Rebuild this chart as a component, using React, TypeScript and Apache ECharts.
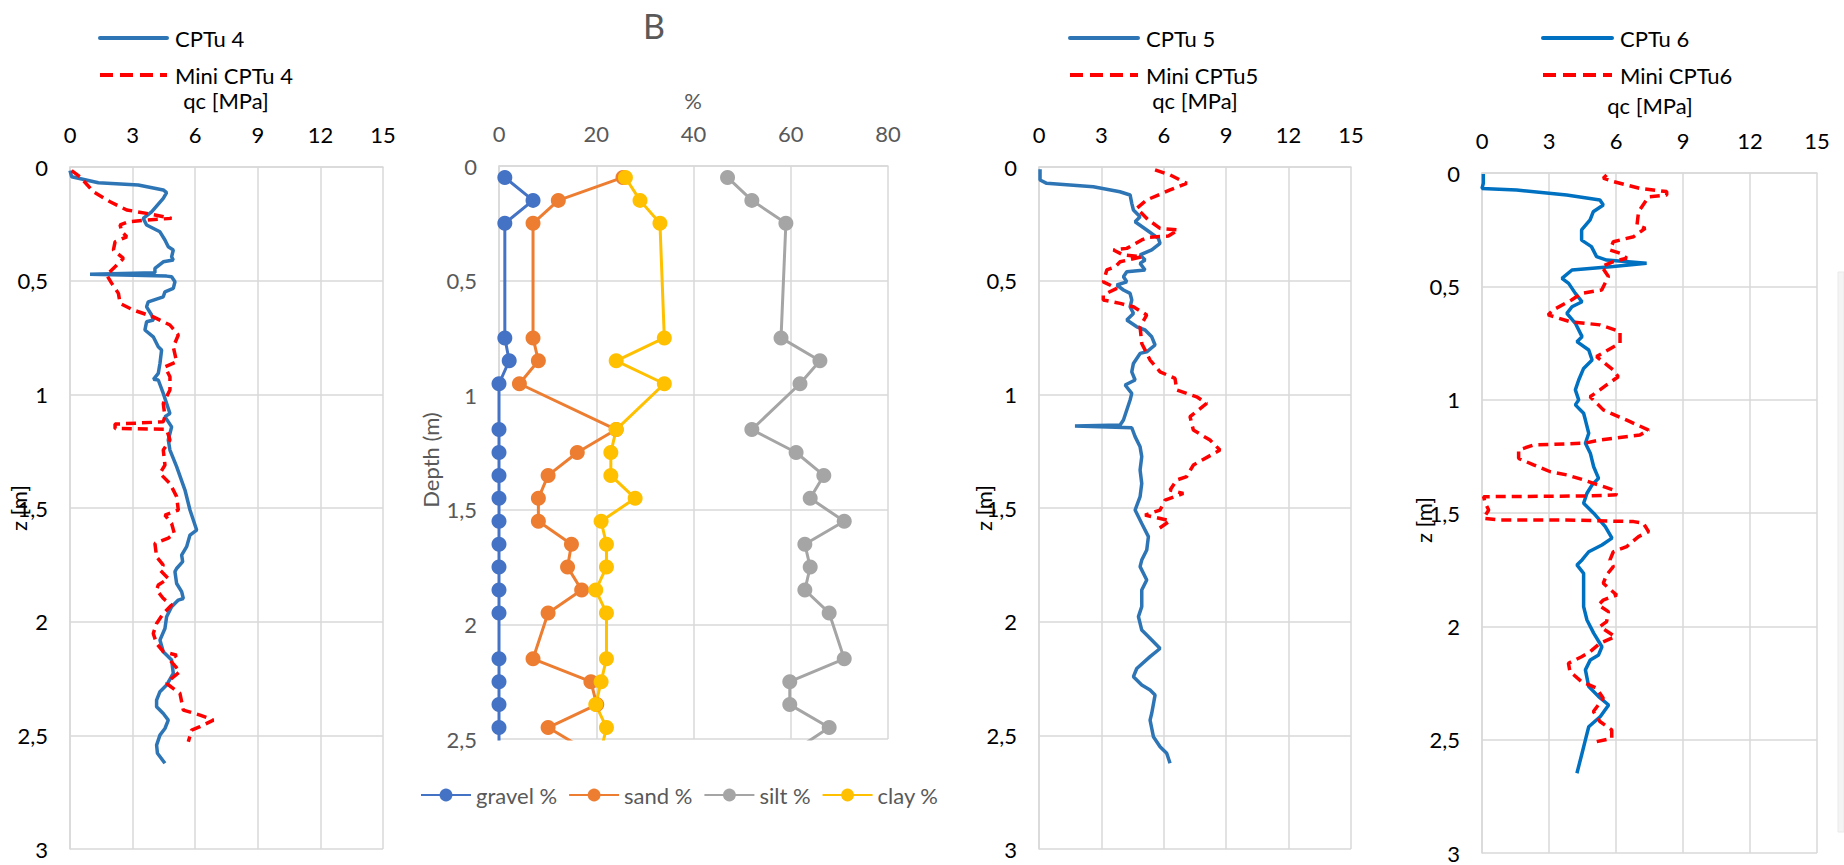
import React, { useEffect, useRef } from "react";
import * as echarts from "echarts";

const FONT = "Lato, 'Liberation Sans', sans-serif";

// ---------- Panel A (CPTu 4) : [qc MPa, z m]
const cptu4: number[][] = [
  [0, 0.016], [0.08, 0.043], [1.36, 0.069], [3.27, 0.079], [4.47, 0.101], [4.63, 0.113], [4.47, 0.138], [3.91, 0.197],
  [3.51, 0.226], [3.67, 0.255], [4.31, 0.285], [4.55, 0.321], [4.71, 0.351], [4.95, 0.365], [4.87, 0.395], [4.95, 0.409],
  [4.47, 0.417], [4.07, 0.446], [4.07, 0.465], [0.96, 0.472], [4.63, 0.48], [4.87, 0.483], [5.03, 0.505], [4.95, 0.534],
  [4.55, 0.549], [4.47, 0.571], [3.75, 0.593], [3.67, 0.615], [3.91, 0.651], [4.0, 0.673], [3.67, 0.681], [3.59, 0.717],
  [3.99, 0.747], [4.23, 0.791], [4.39, 0.805], [4.31, 0.864], [4.23, 0.908], [4.0, 0.934], [4.23, 0.937], [4.47, 0.996],
  [4.79, 1.084], [4.55, 1.098], [4.87, 1.143], [4.71, 1.201], [4.79, 1.245], [5.11, 1.318], [5.51, 1.421], [5.75, 1.509],
  [6.07, 1.597], [5.75, 1.619], [5.59, 1.67], [5.35, 1.707], [5.4, 1.736], [5.11, 1.766], [5.03, 1.78], [5.11, 1.832],
  [5.35, 1.868], [5.43, 1.898], [5.19, 1.905], [4.87, 1.934], [4.63, 1.978], [4.55, 2.03], [4.31, 2.081], [4.47, 2.132],
  [4.87, 2.169], [4.95, 2.227], [4.63, 2.279], [4.31, 2.308], [4.15, 2.345], [4.15, 2.374], [4.47, 2.404], [4.71, 2.433],
  [4.55, 2.47], [4.31, 2.499], [4.15, 2.543], [4.19, 2.579], [4.55, 2.623],
];
const mini4: number[][] = [
  [0.08, 0.016], [0.48, 0.043], [1.12, 0.109], [1.92, 0.153], [2.72, 0.189], [3.67, 0.204], [4.87, 0.226], [3.67, 0.233],
  [2.8, 0.241], [2.4, 0.255], [2.48, 0.285], [2.72, 0.307], [2.16, 0.329], [2.08, 0.365], [2.56, 0.402], [2.16, 0.439],
  [1.76, 0.475], [2.0, 0.512], [2.32, 0.556], [2.4, 0.6], [3.03, 0.629], [3.99, 0.659], [4.79, 0.695], [5.19, 0.739],
  [4.95, 0.791], [5.11, 0.857], [4.55, 0.879], [4.79, 0.923], [4.79, 0.981], [4.47, 1.04], [4.55, 1.098], [4.47, 1.121],
  [2.16, 1.131], [2.16, 1.15], [4.63, 1.154], [4.79, 1.201], [4.47, 1.245], [4.55, 1.311], [4.31, 1.348], [4.79, 1.392],
  [5.11, 1.45], [5.19, 1.509], [4.55, 1.531], [4.87, 1.568], [5.0, 1.612], [4.71, 1.633], [4.07, 1.656], [4.15, 1.715],
  [4.47, 1.751], [4.31, 1.773], [4.71, 1.81], [4.23, 1.839], [4.15, 1.861], [4.47, 1.898], [4.87, 1.927], [4.47, 1.964],
  [4.15, 2.008], [3.99, 2.052], [4.15, 2.096], [4.47, 2.132], [5.11, 2.147], [4.79, 2.169], [5.27, 2.22], [4.87, 2.25],
  [4.63, 2.272], [5.27, 2.316], [5.43, 2.389], [6.23, 2.411], [6.87, 2.433], [6.23, 2.462], [5.83, 2.477], [5.67, 2.528],
];

// ---------- Panel B (grain size)
const depthB = [0.05, 0.15, 0.25, 0.75, 0.85, 0.95, 1.15, 1.25, 1.35, 1.45, 1.55, 1.65, 1.75, 1.85, 1.95, 2.15, 2.25, 2.35, 2.45, 2.55];
const gravel = [1.2, 7.0, 1.2, 1.2, 2.1, 0, 0, 0, 0, 0, 0, 0, 0, 0, 0, 0, 0, 0, 0, 0];
const sand = [25.5, 12.2, 7.0, 7.0, 8.1, 4.2, 24.1, 16.1, 10.1, 8.1, 8.1, 14.9, 14.1, 17.0, 10.1, 7.0, 18.9, 20.1, 10.1, 18.0];
const silt = [47.0, 52.0, 59.0, 58.0, 66.0, 61.9, 52.0, 61.1, 66.8, 64.0, 71.0, 62.9, 64.0, 62.9, 67.9, 71.0, 59.8, 59.8, 67.9, 60.8];
const clay = [26.0, 29.0, 33.1, 34.0, 24.1, 34.0, 24.1, 23.0, 23.0, 28.0, 21.0, 22.1, 22.1, 19.9, 22.1, 22.1, 21.0, 19.9, 22.1, 21.0];

// ---------- Panel C (CPTu 5)
const cptu5: number[][] = [
  [0.05, 0.01], [0.05, 0.057], [0.37, 0.072], [2.61, 0.087], [3.89, 0.109], [4.38, 0.123], [4.46, 0.16], [4.54, 0.189],
  [4.86, 0.219], [4.62, 0.241], [5.18, 0.277], [5.74, 0.314], [5.82, 0.336], [5.42, 0.365], [4.86, 0.387], [5.1, 0.409],
  [4.86, 0.424], [5.1, 0.453], [4.22, 0.461], [4.06, 0.483], [4.22, 0.505], [3.74, 0.519], [4.06, 0.541], [4.38, 0.556],
  [4.46, 0.585], [4.38, 0.615], [4.54, 0.644], [4.22, 0.673], [4.7, 0.703], [5.1, 0.717], [5.42, 0.747], [5.58, 0.783],
  [5.18, 0.813], [4.86, 0.82], [4.54, 0.864], [4.46, 0.901], [4.62, 0.937], [4.14, 0.959], [4.46, 0.996], [4.38, 1.025],
  [4.22, 1.069], [4.06, 1.113], [3.9, 1.135], [1.73, 1.139], [4.46, 1.147], [4.62, 1.186], [4.86, 1.231], [4.94, 1.274],
  [4.86, 1.333], [4.94, 1.392], [4.86, 1.45], [4.62, 1.509], [4.94, 1.568], [5.26, 1.626], [5.18, 1.685], [4.94, 1.729],
  [4.86, 1.758], [5.18, 1.817], [4.94, 1.861], [4.94, 1.934], [4.78, 1.978], [4.94, 2.037], [5.42, 2.081], [5.82, 2.118],
  [5.34, 2.154], [4.7, 2.206], [4.54, 2.242], [4.94, 2.279], [5.34, 2.301], [5.58, 2.323], [5.42, 2.403], [5.34, 2.433],
  [5.5, 2.506], [5.82, 2.55], [6.14, 2.579], [6.3, 2.623],
];
const mini5: number[][] = [
  [5.58, 0.013], [6.3, 0.035], [7.1, 0.072], [6.3, 0.101], [5.18, 0.145], [4.7, 0.182], [5.26, 0.233], [5.82, 0.27],
  [6.7, 0.277], [6.22, 0.304], [5.26, 0.309], [4.94, 0.321], [4.22, 0.358], [3.58, 0.365], [4.06, 0.387], [4.94, 0.395],
  [3.9, 0.417], [3.66, 0.439], [3.26, 0.453], [3.09, 0.505], [3.74, 0.534], [3.09, 0.563], [3.09, 0.585], [3.9, 0.6],
  [4.54, 0.615], [5.18, 0.651], [4.86, 0.703], [4.94, 0.776], [5.34, 0.849], [5.82, 0.901], [6.54, 0.93], [6.62, 0.981],
  [7.58, 1.011], [8.06, 1.04], [7.26, 1.098], [7.42, 1.157], [8.22, 1.201], [8.7, 1.245], [7.42, 1.311], [7.1, 1.362],
  [6.62, 1.377], [6.3, 1.421], [6.94, 1.436], [6.06, 1.465], [5.82, 1.509], [5.1, 1.531], [6.3, 1.556], [5.66, 1.597],
];

// ---------- Panel D (CPTu 6)
const cptu6: number[][] = [
  [0.06, 0.004], [0.06, 0.045], [0, 0.068], [1.55, 0.075], [3.79, 0.097], [5.28, 0.119], [5.43, 0.141], [4.98, 0.171],
  [4.84, 0.207], [4.46, 0.251], [4.46, 0.296], [4.9, 0.325], [5.13, 0.369], [5.58, 0.384], [7.37, 0.398], [5.88, 0.413],
  [4.03, 0.428], [3.58, 0.465], [3.88, 0.487], [4.18, 0.531], [4.48, 0.568], [4.03, 0.59], [3.8, 0.619], [4.18, 0.663],
  [4.48, 0.722], [4.25, 0.744], [4.78, 0.781], [4.93, 0.825], [4.55, 0.862], [4.33, 0.913], [4.18, 0.957], [4.33, 1.001],
  [4.18, 1.023], [4.55, 1.06], [4.63, 1.09], [4.78, 1.148], [4.63, 1.192], [4.85, 1.236], [5.0, 1.296], [5.22, 1.347],
  [4.93, 1.376], [4.7, 1.413], [4.55, 1.457], [5.0, 1.501], [5.52, 1.56], [5.82, 1.611], [5.37, 1.641], [4.78, 1.671],
  [4.48, 1.707], [4.25, 1.729], [4.55, 1.766], [4.55, 1.854], [4.55, 1.913], [4.7, 1.972], [5.0, 2.03], [5.37, 2.09],
  [5.22, 2.126], [4.85, 2.148], [4.63, 2.192], [4.78, 2.266], [5.22, 2.31], [5.67, 2.347], [5.3, 2.398], [4.78, 2.443],
  [4.63, 2.501], [4.48, 2.56], [4.25, 2.648],
];
const mini6: number[][] = [
  [5.58, 0.009], [5.43, 0.023], [5.88, 0.038], [7.07, 0.068], [8.27, 0.082], [8.27, 0.097], [7.46, 0.105], [7.01, 0.171],
  [6.94, 0.229], [7.31, 0.244], [6.79, 0.281], [5.88, 0.303], [5.73, 0.34], [6.18, 0.354], [6.48, 0.376], [5.88, 0.391],
  [5.36, 0.413], [5.66, 0.457], [5.36, 0.516], [4.46, 0.531], [4.01, 0.56], [3.19, 0.604], [2.96, 0.626], [3.94, 0.656],
  [5.28, 0.67], [6.18, 0.7], [6.18, 0.751], [5.51, 0.788], [5.13, 0.81], [5.88, 0.869], [6.1, 0.899], [5.58, 0.935],
  [5.28, 0.957], [4.84, 0.987], [5.43, 1.045], [6.63, 1.097], [7.46, 1.134], [7.07, 1.156], [5.28, 1.178], [4.61, 1.192],
  [2.31, 1.2], [1.64, 1.222], [1.64, 1.259], [2.31, 1.288], [3.06, 1.318], [3.8, 1.332], [4.55, 1.354], [5.0, 1.369],
  [5.88, 1.398], [6.03, 1.42], [4.55, 1.425], [0.07, 1.428], [0.15, 1.457], [0.3, 1.487], [0.07, 1.523], [0.82, 1.531],
  [3.8, 1.531], [6.79, 1.538], [7.22, 1.545], [7.46, 1.582], [7.01, 1.604], [6.48, 1.648], [5.88, 1.671], [5.73, 1.707],
  [5.88, 1.737], [5.58, 1.773], [5.43, 1.81], [6.03, 1.862], [5.43, 1.884], [5.21, 1.906], [5.66, 1.935], [5.58, 1.979],
  [5.28, 2.001], [5.96, 2.045], [5.28, 2.075], [4.84, 2.112], [4.46, 2.134], [3.87, 2.163], [3.94, 2.2], [4.46, 2.244],
  [5.13, 2.273], [5.43, 2.317], [4.99, 2.376], [5.28, 2.42], [5.81, 2.457], [5.81, 2.494], [5.13, 2.509], [5.06, 2.523],
];

const GRID_COLOR = "#D9D9D9";
const RED = "#FF0000";
const DASH = [10, 6];
const comma = (v: number) => String(v).replace(".", ",");

function qcXAxis(gridIndex: number) {
  return {
    type: "value", gridIndex, position: "top", min: 0, max: 15, interval: 3,
    axisLine: { show: true, lineStyle: { color: GRID_COLOR, width: 1.5 } },
    axisTick: { show: false },
    splitLine: { show: true, lineStyle: { color: GRID_COLOR, width: 1.5 } },
    axisLabel: { fontSize: 22, color: "#000", fontFamily: FONT, margin: 22 },
  };
}
function zYAxis(gridIndex: number, max: number, color: string) {
  return {
    type: "value", gridIndex, inverse: true, min: 0, max, interval: 0.5,
    axisLine: { show: true, lineStyle: { color: GRID_COLOR, width: 1.5 } },
    axisTick: { show: false },
    splitLine: { show: true, lineStyle: { color: GRID_COLOR, width: 1.5 } },
    axisLabel: { fontSize: 22, color, fontFamily: FONT, margin: 22, formatter: comma },
  };
}
function profile(name: string, data: number[][], idx: number, color: string, dashed: boolean) {
  return {
    name, type: "line", xAxisIndex: idx, yAxisIndex: idx, data,
    symbol: "none", showSymbol: false, clip: true,
    lineStyle: { color, width: 3.5, type: dashed ? DASH : "solid" },
    itemStyle: { color },
  };
}
function grain(name: string, vals: number[], color: string) {
  return {
    name, type: "line", xAxisIndex: 1, yAxisIndex: 1,
    data: vals.map((v, i) => [v, depthB[i]]),
    symbol: "circle", symbolSize: 15, clip: true,
    lineStyle: { color, width: 3 }, itemStyle: { color },
  };
}
function txt(text: string, x: number, y: number, size: number, color: string, rot = 0, align = "center") {
  return {
    type: "text", x, y, rotation: rot,
    style: { text, fontSize: size, fill: color, fontFamily: FONT, align, verticalAlign: "middle" },
  };
}
function legendPair(x1: number, x2: number, blue: string, n1: string, n2: string) {
  return [
    { type: "line", shape: { x1, y1: 38, x2, y2: 38 }, style: { stroke: blue, lineWidth: 4, lineCap: "round" } },
    { type: "line", shape: { x1, y1: 75, x2, y2: 75 }, style: { stroke: RED, lineWidth: 4, lineDash: [13, 7] } },
    txt(n1, x2 + 8, 38, 22, "#000", 0, "left"),
    txt(n2, x2 + 8, 75, 22, "#000", 0, "left"),
  ];
}

export default function App() {
  const ref = useRef<HTMLDivElement>(null);
  useEffect(() => {
    if (!ref.current) return;
    const chart = echarts.init(ref.current, null, { renderer: "svg" });
    chart.setOption({
      animation: false,
      backgroundColor: "#fff",
      grid: [
        { left: 70, top: 167, width: 313, height: 682 },
        { left: 499, top: 166, width: 389, height: 573 },
        { left: 1039, top: 167, width: 312, height: 682 },
        { left: 1482, top: 173, width: 335, height: 680 },
      ],
      xAxis: [
        qcXAxis(0),
        {
          type: "value", gridIndex: 1, position: "top", min: 0, max: 80, interval: 20,
          axisLine: { show: true, lineStyle: { color: GRID_COLOR, width: 1.5 } },
          axisTick: { show: false },
          splitLine: { show: true, lineStyle: { color: GRID_COLOR, width: 1.5 } },
          axisLabel: { fontSize: 22, color: "#595959", fontFamily: FONT, margin: 22 },
        },
        qcXAxis(2),
        qcXAxis(3),
      ],
      yAxis: [zYAxis(0, 3, "#000"), zYAxis(1, 2.5, "#595959"), zYAxis(2, 3, "#000"), zYAxis(3, 3, "#000")],
      legend: [
        {
          data: ["gravel %", "sand %", "silt %", "clay %"], orient: "horizontal", left: 415, top: 779,
          itemWidth: 50, itemHeight: 16, itemGap: 11,
          textStyle: { fontSize: 22, color: "#595959", fontFamily: FONT },
        },
      ],
      series: [
        profile("CPTu 4", cptu4, 0, "#2E75B6", false),
        profile("Mini CPTu 4", mini4, 0, RED, true),
        grain("gravel %", gravel, "#4472C4"),
        grain("sand %", sand, "#ED7D31"),
        grain("silt %", silt, "#A5A5A5"),
        grain("clay %", clay, "#FFC000"),
        profile("CPTu 5", cptu5, 2, "#2E75B6", false),
        profile("Mini CPTu5", mini5, 2, RED, true),
        profile("CPTu 6", cptu6, 3, "#0070C0", false),
        profile("Mini CPTu6", mini6, 3, RED, true),
      ],
      graphic: [
        ...legendPair(100, 167, "#2E75B6", "CPTu 4", "Mini CPTu 4"),
        ...legendPair(1070, 1138, "#2E75B6", "CPTu 5", "Mini CPTu5"),
        ...legendPair(1543, 1612, "#0070C0", "CPTu 6", "Mini CPTu6"),
        txt("qc [MPa]", 226, 100, 22, "#000"),
        txt("qc [MPa]", 1195, 100, 22, "#000"),
        txt("qc [MPa]", 1650, 105, 22, "#000"),
        txt("%", 693, 100, 22, "#595959"),
        txt("B", 654, 25, 34, "#595959"),
        txt("z [m]", 18, 508, 22, "#000", Math.PI / 2),
        txt("z [m]", 983, 508, 22, "#000", Math.PI / 2),
        txt("z [m]", 1423, 520, 22, "#000", Math.PI / 2),
        txt("Depth (m)", 430, 460, 22, "#595959", Math.PI / 2),
        {
          type: "rect", shape: { x: 1838, y: 272, width: 6, height: 560 },
          style: { fill: "#F4F4F4", stroke: "#EAEAEA", lineWidth: 1 },
        },
      ],
    });
    return () => chart.dispose();
  }, []);
  return <div ref={ref} style={{ position: "absolute", left: 0, top: 0, width: 1844, height: 865 }} />;
}
